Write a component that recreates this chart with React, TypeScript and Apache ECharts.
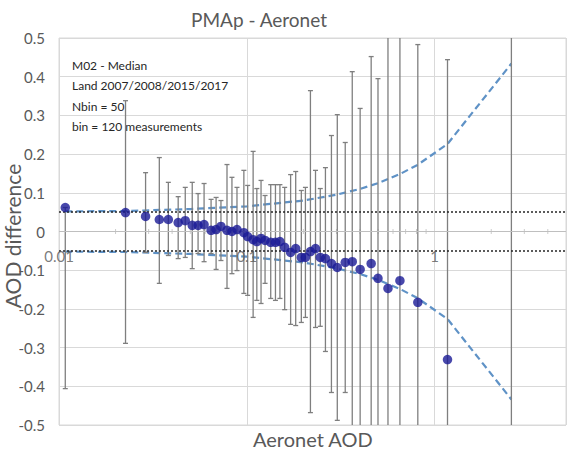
import React, { useEffect, useRef } from "react";
import * as echarts from "echarts";

// Aeronet AOD (bin centres)
const aod = [
  0.0108, 0.0226, 0.0289, 0.0342, 0.0382, 0.0431, 0.047, 0.0512, 0.055, 0.0592,
  0.0645, 0.0686, 0.0728, 0.0784, 0.0833, 0.0886, 0.0964, 0.101, 0.108, 0.113,
  0.119, 0.125, 0.134, 0.142, 0.15, 0.159, 0.171, 0.182, 0.195, 0.205,
  0.218, 0.232, 0.246, 0.262, 0.282, 0.303, 0.334, 0.364, 0.401, 0.459,
  0.499, 0.564, 0.653, 0.813, 1.17, 2.56,
];
// Median AOD difference per bin
const median = [
  0.062, 0.049, 0.039, 0.031, 0.031, 0.023, 0.028, 0.016, 0.016, 0.018,
  0.003, 0.005, 0.013, 0.003, 0.0, 0.005, -0.003, -0.013, -0.021, -0.026,
  -0.018, -0.023, -0.028, -0.028, -0.026, -0.041, -0.054, -0.044, -0.067, -0.067,
  -0.052, -0.044, -0.067, -0.07, -0.083, -0.093, -0.08, -0.078, -0.098, -0.083,
  -0.121, -0.147, -0.127, -0.183, -0.331, -0.62,
];
// Error bar upper ends
const upper = [
  0.062, 0.338, 0.152, 0.191, 0.127, 0.09, 0.114, 0.127, 0.098, 0.124,
  0.083, 0.088, 0.08, 0.173, 0.14, 0.114, 0.158, 0.119, 0.207, 0.111,
  0.132, 0.093, 0.121, 0.121, 0.121, 0.114, 0.147, 0.155, 0.106, 0.114,
  0.364, 0.158, 0.111, 0.165, 0.248, 0.302, 0.23, 0.413, 0.318, 0.452,
  0.395, 0.62, 0.58, 0.483, 0.444, 0.8,
];
// Error bar lower ends
const lower = [
  -0.406, -0.289, -0.054, -0.134, -0.062, -0.07, -0.067, -0.096, -0.057, -0.078,
  -0.057, -0.098, -0.075, -0.147, -0.109, -0.101, -0.16, -0.165, -0.222, -0.178,
  -0.186, -0.134, -0.173, -0.178, -0.173, -0.202, -0.24, -0.243, -0.235, -0.222,
  -0.468, -0.248, -0.245, -0.31, -0.416, -0.488, -0.416, -0.55, -0.6, -0.62,
  -0.65, -0.7, -0.72, -0.75, -0.55, -0.9,
];
// Requirement envelope (dashed)
const envAod = [0.0108, 0.0226, 0.05, 0.1, 0.2, 0.3, 0.4, 0.5, 0.65, 0.81, 1.17, 2.56];
const envUpper = [0.052, 0.053, 0.058, 0.065, 0.08, 0.095, 0.11, 0.125, 0.148, 0.172, 0.226, 0.434];
const envLower = [-0.052, -0.053, -0.058, -0.065, -0.08, -0.095, -0.11, -0.125, -0.148, -0.172, -0.226, -0.434];
// Dotted reference levels
const refLevels = [0.05, -0.05];
// Tick labels shown on the zero axis
const xTickLabels = [0.01, 0.1, 1];
// Minor tick positions on the zero axis
const minorTickValues = [
  0.02, 0.03, 0.04, 0.05, 0.06, 0.07, 0.08, 0.09,
  0.2, 0.3, 0.4, 0.5, 0.6, 0.7, 0.8, 0.9, 2, 3, 4,
];
const infoLines = ["M02 - Median", "Land 2007/2008/2015/2017", "Nbin = 50", "bin = 120 measurements"];

const Y_MIN = -0.5;
const Y_MAX = 0.5;
const FONT = "Lato, 'Open Sans', sans-serif";

export default function App() {
  const ref = useRef<HTMLDivElement>(null);
  useEffect(() => {
    if (!ref.current) return;
    const chart = echarts.init(ref.current, undefined, { renderer: "svg" });
    const option: any = {
      animation: false,
      textStyle: { fontFamily: FONT },
      grid: {
        left: 59, right: 10, top: 38, bottom: 29,
        containLabel: false,
        outerBoundsMode: "none",
        show: true, borderColor: "#d9d9d9", borderWidth: 1, backgroundColor: "transparent",
      },
      xAxis: {
        type: "log",
        logBase: 10,
        min: 0.01,
        max: 5,
        axisLine: { show: false },
        axisTick: { show: false },
        axisLabel: { show: false },
        splitLine: { show: true, lineStyle: { color: "#d9d9d9", width: 1 } },
      },
      yAxis: {
        type: "value",
        min: Y_MIN,
        max: Y_MAX,
        interval: 0.1,
        axisLine: { show: false },
        axisTick: { show: false },
        axisLabel: {
          color: "#595959", fontSize: 15, margin: 14, fontFamily: FONT,
          formatter: (v: number) => String(Number(v.toFixed(1))),
        },
        splitLine: { show: true, lineStyle: { color: "#d9d9d9", width: 1 } },
      },
      graphic: [
        {
          type: "text", left: 262 - 71, top: 10,
          style: { text: "PMAp - Aeronet", fill: "#595959", font: `19px ${FONT}` },
        },
        {
          type: "text", left: 253, top: 429,
          style: { text: "Aeronet AOD", fill: "#595959", font: `20px ${FONT}` },
        },
        {
          type: "text", x: 12, y: 236, rotation: Math.PI / 2,
          style: {
            text: "AOD difference", fill: "#595959", font: `21px ${FONT}`,
            align: "center", verticalAlign: "middle",
          },
        },
        ...infoLines.map((t, i) => ({
          type: "text", left: 72, top: 59 + i * 20.5,
          style: { text: t, fill: "#262626", font: `12px ${FONT}` },
        })),
      ],
      series: [
        {
          type: "scatter",
          silent: true,
          symbol: "rect",
          symbolSize: [1, 5],
          itemStyle: { color: "#bfbfbf" },
          data: minorTickValues.map((v) => [v, 0]),
          markLine: {
            silent: true,
            symbol: ["none", "none"],
            label: { show: false },
            lineStyle: { color: "#bfbfbf", width: 1, type: "solid" },
            data: [{ yAxis: 0 }],
          },
          z: 1,
        },
        {
          type: "scatter",
          silent: true,
          clip: false,
          symbolSize: 0,
          data: xTickLabels.map((v) => [v, 0]),
          label: {
            show: true,
            position: "bottom",
            distance: 17,
            color: "#595959",
            fontSize: 15,
            fontFamily: FONT,
            formatter: (p: any) => String(p.value[0]),
          },
          z: 6,
        },
        {
          type: "line",
          silent: true,
          symbol: "none",
          data: envAod.map((x, i) => [x, envUpper[i]]),
          lineStyle: { color: "#5f92c6", width: 2.2, type: [7, 4] },
          markLine: {
            silent: true,
            symbol: ["none", "none"],
            label: { show: false },
            lineStyle: { color: "#262626", width: 1.6, type: [2, 2] },
            data: refLevels.map((v) => ({ yAxis: v })),
          },
          z: 3,
        },
        {
          type: "line",
          silent: true,
          symbol: "none",
          data: envAod.map((x, i) => [x, envLower[i]]),
          lineStyle: { color: "#5f92c6", width: 2.2, type: [7, 4] },
          z: 3,
        },
        {
          type: "custom",
          silent: true,
          data: aod.map((x, i) => [x, lower[i], upper[i]]),
          encode: { x: 0, y: [1, 2] },
          renderItem: (params: any, api: any) => {
            const x = api.value(0);
            const lo = api.value(1);
            const hi = api.value(2);
            const loC = Math.max(lo, Y_MIN);
            const hiC = Math.min(hi, Y_MAX);
            const pTop = api.coord([x, hiC]);
            const pBot = api.coord([x, loC]);
            const style = { stroke: "#7f7f7f", lineWidth: 1.3 };
            const children: any[] = [
              { type: "line", shape: { x1: pTop[0], y1: pTop[1], x2: pBot[0], y2: pBot[1] }, style },
            ];
            if (hi <= Y_MAX) {
              children.push({ type: "line", shape: { x1: pTop[0] - 2.5, y1: pTop[1], x2: pTop[0] + 2.5, y2: pTop[1] }, style });
            }
            if (lo >= Y_MIN) {
              children.push({ type: "line", shape: { x1: pBot[0] - 2.5, y1: pBot[1], x2: pBot[0] + 2.5, y2: pBot[1] }, style });
            }
            return { type: "group", children };
          },
          z: 4,
        },
        {
          type: "scatter",
          silent: true,
          clip: true,
          symbol: "circle",
          symbolSize: 9.5,
          itemStyle: { color: "#1a1a96" },
          data: aod.map((x, i) => [x, median[i]]),
          z: 5,
        },
      ],
    };
    chart.setOption(option);
    return () => chart.dispose();
  }, []);
  return (
    <div
      ref={ref}
      style={{ position: "fixed", left: 0, top: 0, width: 576, height: 454, background: "#ffffff" }}
    />
  );
}
